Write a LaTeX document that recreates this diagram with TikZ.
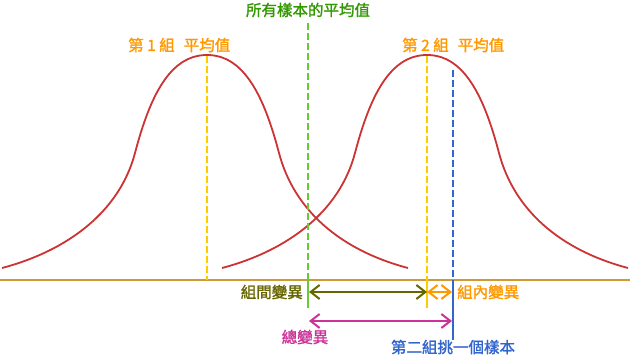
\documentclass[tikz,border=0pt]{standalone}
\usepackage{fontspec}
\setmainfont{Noto Sans CJK TC}[FakeBold=1.5]
\usetikzlibrary{arrows.meta}
\definecolor{curvered}{HTML}{CC3333}
\definecolor{basegold}{HTML}{D09A30}
\definecolor{meangreen}{HTML}{66CC33}
\definecolor{textgreen}{HTML}{339900}
\definecolor{meanyellow}{HTML}{FFCC00}
\definecolor{txtorange}{HTML}{FF9900}
\definecolor{sampleblue}{HTML}{3366CC}
\definecolor{olivec}{HTML}{666600}
\definecolor{magentac}{HTML}{CC3399}
\tikzset{
  bellcurve/.style={draw=curvered, line width=1.8pt},
  dashline/.style={line width=2pt, dash pattern=on 7pt off 3pt},
  solidline/.style={line width=2pt},
  label/.style={font=\fontsize{15.5}{16}\selectfont, inner sep=0pt},
  varrow/.style={line width=2pt, {Straight Barb[length=9pt,width=14pt]}-{Straight Barb[length=9pt,width=14pt]}},
}
\begin{document}
\begin{tikzpicture}[x=1pt,y=-1pt]
\useasboundingbox[fill=white] (0,0) rectangle (630,358);
% baseline
\coordinate (bl) at (0,280);
\coordinate (br) at (630,280);
\draw[basegold, line width=2pt] (bl) -- (br);
% bell curves
\foreach \c in {207,427}{
  \draw[bellcurve, shift={(\c,0)}]
    (-205,268) .. controls (-137,250) and (-87,210) .. (-72,153)
    .. controls (-57,96) and (-37,55) .. (0,55)
    .. controls (37,55) and (57,96) .. (72,153)
    .. controls (87,210) and (133,250) .. (201,268);
}
% coordinates
\coordinate (m1top) at (207,56);
\coordinate (m1bot) at (207,280);
\coordinate (gtop) at (308,23);
\coordinate (gmid) at (308,280);
\coordinate (gbot) at (308,308);
\coordinate (m2top) at (427,56);
\coordinate (m2mid) at (427,280);
\coordinate (m2bot) at (427,308);
\coordinate (stop) at (453,70);
\coordinate (smid) at (453,280);
\coordinate (sbot) at (453,340);
% vertical lines
\draw[dashline, meanyellow] (m1top) -- (m1bot);
\draw[dashline, meangreen] (gtop) -- (gmid);
\draw[solidline, meangreen] (gmid) -- (gbot);
\draw[dashline, meanyellow] (m2top) -- (m2mid);
\draw[solidline, meanyellow] (m2mid) -- (m2bot);
\draw[dashline, sampleblue] (stop) -- (smid);
\draw[solidline, sampleblue] (smid) -- (sbot);
% arrows
\coordinate (a1l) at (309,292);
\coordinate (a1r) at (427,292);
\coordinate (a2r) at (452,292);
\coordinate (a3l) at (309,321);
\coordinate (a3r) at (452,321);
\draw[varrow, olivec] (a1l) -- (a1r);
\draw[varrow, txtorange] (a1r) -- (a2r);
\draw[varrow, magentac] (a3l) -- (a3r);
% labels
\node[label, text=textgreen] (tall) at (308,10) {所有樣本的平均值};
\node[label, text=txtorange, anchor=west] (tm1) at (128,45) {第 1 組\hspace{9pt}平均值};
\node[label, text=txtorange, anchor=west] (tm2) at (402,45) {第 2 組\hspace{9pt}平均值};
\node[label, text=olivec, anchor=east] (tbetween) at (303,292) {組間變異};
\node[label, text=txtorange, anchor=west] (twithin) at (457,292) {組內變異};
\node[label, text=magentac] (ttotal) at (305,337) {總變異};
\node[label, text=sampleblue] (tsample) at (453,347) {第二組挑一個樣本};
\end{tikzpicture}
\end{document}
